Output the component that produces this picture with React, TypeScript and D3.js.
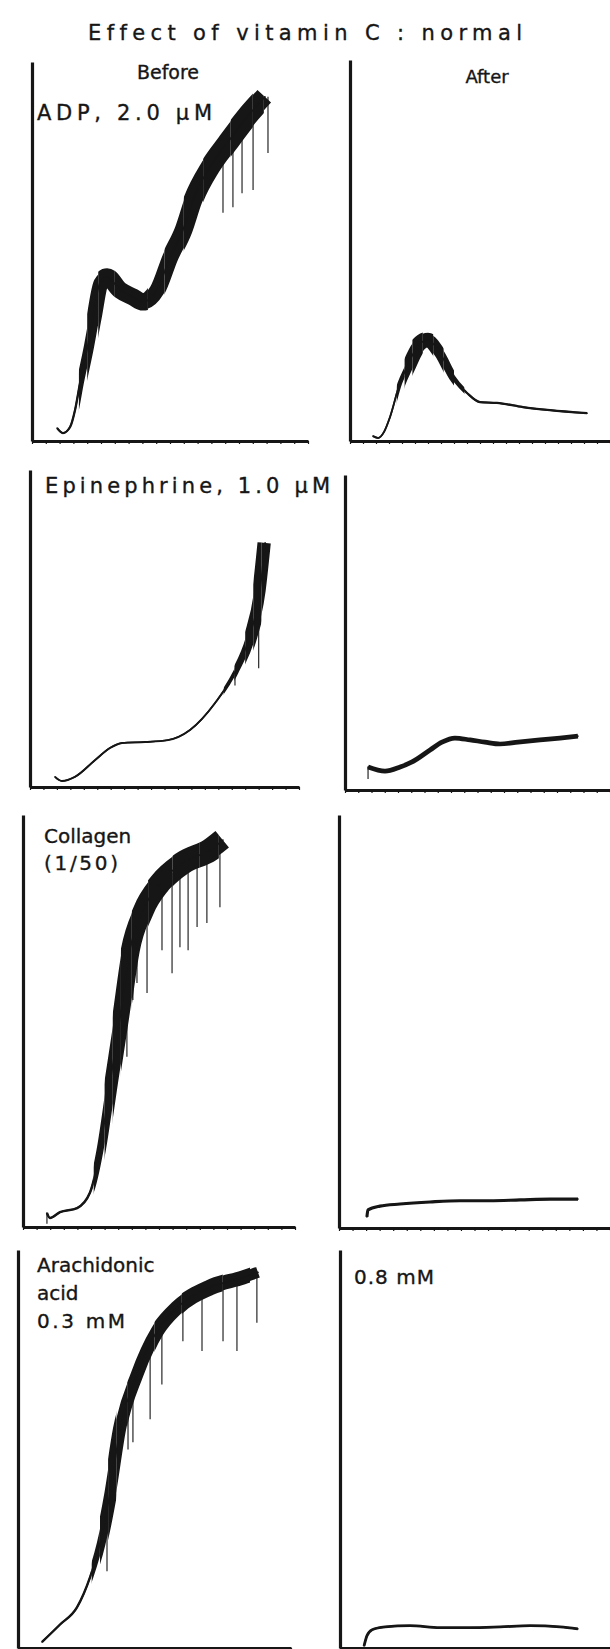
import React from 'react';
import * as d3 from 'd3';

type P = [number, number];

// traces: [time (% of x axis), aggregation (% of y axis)]
const adpBefore: P[] = [
  [9.1, 3.4], [11.2, 2.1], [13.8, 3.7], [15.6, 8.2], [17.4, 15.3], [19.9, 24.0], [22.1, 32.7],
  [24.6, 41.7], [27.2, 43.3], [31.9, 39.8], [36.6, 38.0], [40.2, 36.7], [45.3, 39.8], [50.0, 48.5],
  [54.7, 55.7], [58.3, 63.6], [64.5, 72.3], [70.7, 78.6], [77.9, 85.5], [84.4, 90.8],
];
const adpBeforeNoise: P[] = [
  [0, 0.3], [17, 1.0], [20, 1.7], [24, 2.3], [30, 2.3], [42, 2.0], [48, 2.2], [55, 2.5], [62, 2.7], [72, 2.9], [80, 2.7], [84, 2.2],
];
const adpBeforeSpikes: P[] = [[69.2, 60.2], [72.8, 61.7], [76.1, 65.4], [80.1, 66.2], [85.5, 76.0]];

const adpAfter: P[] = [
  [8.8, 1.3], [10.8, 0.8], [13.1, 2.4], [15.4, 6.3], [19.2, 15.2], [21.9, 19.4], [25.8, 24.7],
  [30.0, 26.5], [34.6, 23.1], [39.6, 16.8], [45.0, 12.6], [50.0, 10.2], [56.5, 10.0], [66.5, 8.9],
  [76.9, 8.1], [91.2, 7.3],
];
const adpAfterNoise: P[] = [[0, 0.25], [18, 0.6], [21, 1.5], [24, 2.2], [28, 1.9], [32, 1.5], [36, 1.1], [40, 0.6], [44, 0.3]];
const adpAfterSpikes: P[] = [];

const epiBefore: P[] = [
  [9.3, 3.2], [11.9, 1.9], [16.7, 3.2], [24.2, 8.5], [29.7, 12.3], [34.2, 13.9], [42.8, 14.2],
  [51.3, 14.8], [59.5, 18.0], [68.8, 26.5], [76.2, 36.3], [81.8, 47.9], [85.5, 62.1], [87.4, 77.0],
];
const epiBeforeNoise: P[] = [[0, 0.3], [72, 0.6], [76, 1.1], [80, 1.8], [83, 2.4], [86, 1.8]];
const epiBeforeSpikes: P[] = [[76.2, 32.0], [85.0, 37.5]];

const epiAfter: P[] = [
  [8.7, 7.3], [15.1, 6.0], [20.8, 7.3], [25.3, 8.9], [32.1, 12.7], [36.6, 15.2], [41.5, 16.5],
  [47.2, 15.9], [52.8, 15.2], [58.5, 14.6], [65.3, 15.2], [73.6, 15.9], [81.1, 16.5], [87.9, 17.1],
];
const epiAfterNoise: P[] = [[0, 0.75]];
const epiAfterSpikes: P[] = [[8.7, 3.5]];

const colBefore: P[] = [
  [8.8, 3.4], [9.9, 2.2], [13.6, 3.6], [19.9, 4.6], [24.6, 8.3], [28.3, 18.6], [32.0, 34.9],
  [35.7, 51.0], [39.3, 67.2], [44.1, 76.9], [50.4, 83.5], [58.8, 88.4], [68.8, 91.5], [73.5, 93.9],
];
const colBeforeNoise: P[] = [[0, 0.3], [26, 0.85], [30, 1.4], [33, 1.9], [36, 2.2], [40, 2.4], [46, 2.7], [55, 2.85], [65, 2.85], [72, 2.3]];
const colBeforeSpikes: P[] = [
  [8.8, 0.8], [38.2, 41.3], [40.4, 55.1], [41.9, 59.2], [45.6, 56.8], [51.1, 67.2], [54.8, 61.6],
  [57.7, 67.9], [60.7, 67.2], [64.0, 72.8], [67.6, 73.8], [72.4, 77.6],
];

const colAfter: P[] = [
  [10.3, 2.7], [10.7, 4.4], [15.1, 5.3], [22.5, 5.8], [33.6, 6.3], [44.6, 6.6], [55.7, 6.6],
  [66.8, 6.8], [77.9, 7.0], [88.2, 7.0],
];
const colAfterNoise: P[] = [[0, 0.38]];
const colAfterSpikes: P[] = [];

const aaBefore: P[] = [
  [8.8, 1.5], [15.4, 5.9], [21.6, 10.2], [26.4, 17.8], [30.0, 26.2], [33.7, 38.9], [37.4, 55.0],
  [43.6, 68.7], [50.9, 79.6], [58.2, 85.5], [70.3, 90.6], [82.4, 93.1], [87.9, 94.4],
];
const aaBeforeNoise: P[] = [[0, 0.3], [27, 0.8], [30, 1.4], [33, 1.8], [36, 1.5], [40, 1.6], [50, 1.8], [60, 2.0], [75, 1.8], [85, 1.4]];
const aaBeforeSpikes: P[] = [
  [32.6, 19.3], [40.3, 49.9], [42.1, 51.7], [48.4, 57.5], [52.7, 66.2], [60.4, 77.1],
  [67.4, 74.6], [75.1, 77.1], [80.2, 74.6], [87.5, 81.7],
];

const aaAfter: P[] = [
  [8.9, 0.5], [10.0, 3.1], [11.9, 4.6], [16.7, 5.3], [25.9, 5.6], [37.0, 5.1], [48.1, 5.1],
  [59.3, 5.3], [70.4, 5.6], [81.5, 5.3], [88.1, 4.8],
];
const aaAfterNoise: P[] = [[0, 0.35]];
const aaAfterSpikes: P[] = [];

type Frame = { x0: number; x1: number; y0: number; y1: number };

const panels: { id: string; f: Frame; trace: P[]; noise: P[]; spikes: P[] }[] = [
  { id: 'a', f: { x0: 32, x1: 308, y0: 62, y1: 441 }, trace: adpBefore, noise: adpBeforeNoise, spikes: adpBeforeSpikes },
  { id: 'b', f: { x0: 350, x1: 610, y0: 60, y1: 441 }, trace: adpAfter, noise: adpAfterNoise, spikes: adpAfterSpikes },
  { id: 'c', f: { x0: 30, x1: 299, y0: 470, y1: 787 }, trace: epiBefore, noise: epiBeforeNoise, spikes: epiBeforeSpikes },
  { id: 'd', f: { x0: 345, x1: 610, y0: 475, y1: 790 }, trace: epiAfter, noise: epiAfterNoise, spikes: epiAfterSpikes },
  { id: 'e', f: { x0: 23, x1: 295, y0: 815, y1: 1227 }, trace: colBefore, noise: colBeforeNoise, spikes: colBeforeSpikes },
  { id: 'f', f: { x0: 339, x1: 610, y0: 815, y1: 1228 }, trace: colAfter, noise: colAfterNoise, spikes: colAfterSpikes },
  { id: 'g', f: { x0: 18, x1: 291, y0: 1250, y1: 1648 }, trace: aaBefore, noise: aaBeforeNoise, spikes: aaBeforeSpikes },
  { id: 'h', f: { x0: 340, x1: 610, y0: 1250, y1: 1648 }, trace: aaAfter, noise: aaAfterNoise, spikes: aaAfterSpikes },
];

const INK = '#161616';

const valueAt = (trace: P[], t: number) => {
  const i = d3.bisector((d: P) => d[0]).left(trace, t);
  if (i <= 0) return trace[0][1];
  if (i >= trace.length) return trace[trace.length - 1][1];
  const a = trace[i - 1], b = trace[i];
  return a[1] + (b[1] - a[1]) * (t - a[0]) / (b[0] - a[0]);
};

const Panel = ({ id, f, trace, noise, spikes }: { id: string; f: Frame; trace: P[]; noise: P[]; spikes: P[] }) => {
  const axisRef = React.useRef<SVGGElement>(null);
  const x = d3.scaleLinear().domain([0, 100]).range([f.x0, f.x1]);
  const y = d3.scaleLinear().domain([0, 100]).range([f.y1, f.y0]);
  const unit = (f.y1 - f.y0) / 100;
  const line = d3.line<P>().x(d => x(d[0])).y(d => y(d[1])).curve(d3.curveMonotoneX);
  const path = line(trace) || '';

  React.useEffect(() => {
    const g = d3.select(axisRef.current);
    g.selectAll('*').remove();
    const xa = g.append('g')
      .attr('transform', `translate(0, ${f.y1})`)
      .call(d3.axisBottom(x).ticks(20).tickSize(3).tickSizeOuter(0).tickFormat(() => ''));
    const ya = g.append('g')
      .attr('transform', `translate(${f.x0}, 0)`)
      .call(d3.axisLeft(y).tickValues([]).tickSizeOuter(0));
    [xa, ya].forEach(a => {
      a.select('.domain').attr('stroke', INK).attr('stroke-width', 3.2);
      a.selectAll('.tick line').attr('stroke', INK).attr('stroke-width', 1.2);
    });
  }, [f.x0, f.x1, f.y0, f.y1]);

  return (
    <g>
      <defs>
        {noise.map((n, i) => {
          const t1 = i + 1 < noise.length ? noise[i + 1][0] : 100;
          return (
            <clipPath id={`clip-${id}-${i}`} key={i}>
              <rect x={x(n[0])} y={f.y0 - 40} width={x(t1) - x(n[0])} height={f.y1 - f.y0 + 40} />
            </clipPath>
          );
        })}
      </defs>
      <g ref={axisRef} />
      {spikes.map((s, i) => (
        <line key={`s${i}`} x1={x(s[0])} x2={x(s[0])} y1={y(valueAt(trace, s[0]))} y2={y(s[1])}
          stroke={INK} strokeWidth={1.3} opacity={0.85} />
      ))}
      {noise.map((n, i) => (
        <path key={`n${i}`} d={path} fill="none" stroke={INK} strokeWidth={Math.max(1.6, 2 * n[1] * unit)}
          strokeLinejoin="round" clipPath={`url(#clip-${id}-${i})`} />
      ))}
      <path d={path} fill="none" stroke={INK} strokeWidth={1.6} strokeLinejoin="round" strokeLinecap="round" />
    </g>
  );
};

const font = {
  fontFamily: '"DejaVu Sans", "Liberation Sans", sans-serif',
  fill: INK,
  stroke: INK,
  strokeWidth: 0.35,
  style: { fontVariantLigatures: 'none' as const },
};

export default function App() {
  return (
    <svg width={610} height={1649} style={{ position: 'absolute', left: 0, top: 0, background: '#fff' }}>
      <rect width={610} height={1649} fill="#fff" />
      <text x={88} y={40} fontSize={21} textLength={434} lengthAdjust="spacing" {...font}>Effect of vitamin C : normal</text>
      <text x={168} y={79} fontSize={19} textAnchor="middle" {...font}>Before</text>
      <text x={487} y={83} fontSize={18} textAnchor="middle" {...font}>After</text>
      <text x={37} y={120} fontSize={21} textLength={175} lengthAdjust="spacing" {...font}>ADP, 2.0 µM</text>
      <text x={45} y={493} fontSize={21} textLength={285} lengthAdjust="spacing" {...font}>Epinephrine,  1.0 µM</text>
      <text x={44} y={843} fontSize={20} {...font}>Collagen</text>
      <text x={44} y={870} fontSize={20} textLength={74} lengthAdjust="spacing" {...font}>(1/50)</text>
      <text x={37} y={1272} fontSize={20} {...font}>Arachidonic</text>
      <text x={37} y={1300} fontSize={20} {...font}>acid</text>
      <text x={37} y={1328} fontSize={20} textLength={88} lengthAdjust="spacing" {...font}>0.3 mM</text>
      <text x={354} y={1284} fontSize={20} textLength={80} lengthAdjust="spacing" {...font}>0.8 mM</text>
      {panels.map(p => <Panel key={p.id} {...p} />)}
    </svg>
  );
}
